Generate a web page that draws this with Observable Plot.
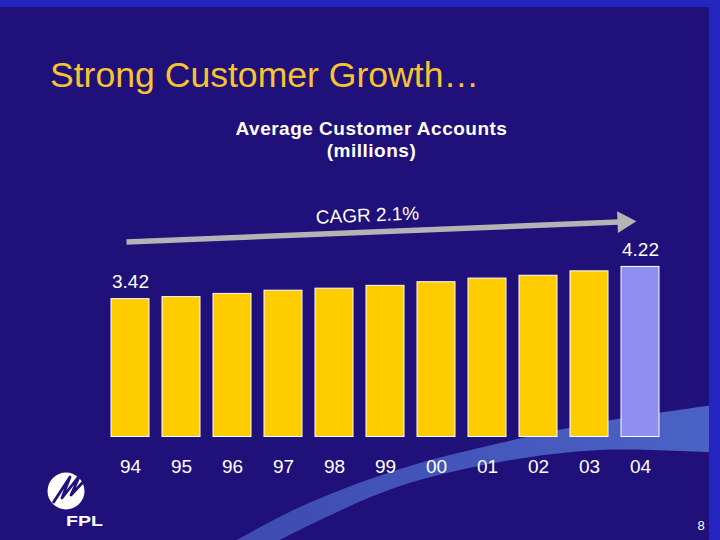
<!DOCTYPE html>
<html>
<head>
<meta charset="utf-8">
<script src="https://cdn.jsdelivr.net/npm/d3@7"></script>
<script src="https://cdn.jsdelivr.net/npm/@observablehq/plot@0.6"></script>
<style>
  html, body { margin: 0; padding: 0; background: #20107a; }
  #slide { position: relative; width: 720px; height: 540px; overflow: hidden; background: #20107a;
           font-family: "Liberation Sans", Arial, sans-serif; }
  #deco { position: absolute; left: 0; top: 0; }
  #title { position: absolute; left: 50px; top: 58px; font-size: 35.6px; line-height: 35px;
           color: #f7c431; white-space: nowrap; }
  #sub { position: absolute; left: 0; top: 118px; width: 743px; text-align: center; color: #ffffff;
         font-weight: bold; font-size: 19px; line-height: 21.5px; letter-spacing: 0.5px; }
  #chart { position: absolute; left: 0; top: 170px; }
</style>
</head>
<body>
<div id="slide">
  <svg id="deco" width="720" height="540" xmlns="http://www.w3.org/2000/svg">
    <defs>
      <linearGradient id="sw" x1="0" y1="0" x2="1" y2="0" gradientUnits="objectBoundingBox">
        <stop offset="0" stop-color="#4b63c6" stop-opacity="0.7"/>
        <stop offset="1" stop-color="#4b63c6" stop-opacity="1"/>
      </linearGradient>
    </defs>
    <path id="swoosh" fill="url(#sw)"/>
    <rect x="0" y="0" width="720" height="7" fill="#2424c0"/>
    <rect x="709" y="0" width="11" height="540" fill="#2424c0"/>
    <g>
      <circle cx="66" cy="491" r="18.5" fill="#ffffff"/>
      <path d="M53,503 L70,477 L62,498 L80,475 L71,495 L84,481" fill="none" stroke="#20107a" stroke-width="2.8" stroke-linejoin="round"/>
      <text x="66" y="526" font-size="14" font-weight="bold" fill="#ffffff" textLength="37" lengthAdjust="spacingAndGlyphs">FPL</text>
    </g>
    <text x="701" y="530" font-size="13" fill="#ffffff" text-anchor="middle">8</text>
  </svg>
  <div id="title">Strong Customer Growth…</div>
  <div id="sub">Average Customer Accounts<br>(millions)</div>
  <div id="chart"></div>
</div>
<script>
// ---- data ----
const years = ["94", "95", "96", "97", "98", "99", "00", "01", "02", "03", "04"];
const accounts = [3.42, 3.47, 3.55, 3.63, 3.68, 3.75, 3.84, 3.93, 4.00, 4.11, 4.22];
const highlightYear = "04";
const labeledYears = ["94", "04"];
const cagrLabel = "CAGR 2.1%";
const cagrFrom = "94";
const cagrTo = "04";
const cagrStartValue = 4.84;
const cagrEndValue = 5.35;

// decorative background swoosh (not data)
const swooshTop = [[226,546],[300,507],[400,469],[500,443],[600,422],[722,404]];
const swooshBottom = [[722,453],[600,450],[500,462],[400,486],[320,520],[268,546]];
const ln = d3.line().curve(d3.curveCatmullRom);
document.getElementById("swoosh").setAttribute("d", ln(swooshTop) + "L" + ln(swooshBottom).slice(1) + "Z");

const data = years.map((year, i) => ({year, value: accounts[i]}));
const labeled = data.filter(d => labeledYears.includes(d.year));
const cagr = [{from: cagrFrom, to: cagrTo, start: cagrStartValue, end: cagrEndValue, label: cagrLabel}];

const chart = Plot.plot({
  width: 720,
  height: 370,
  marginLeft: 96.85,
  marginRight: 47.3,
  marginTop: 96.4,
  marginBottom: 103.5,
  style: {background: "transparent", color: "white", fontFamily: "'Liberation Sans', Arial, sans-serif", overflow: "visible"},
  x: {domain: years, padding: 0.257, label: null},
  y: {domain: [0, 4.22], axis: null},
  color: {type: "identity"},
  marks: [
    Plot.barY(data, {
      x: "year", y: "value",
      fill: d => d.year === highlightYear ? "#8f8fef" : "#ffcc00",
      stroke: "white", strokeWidth: 1
    }),
    Plot.text(labeled, {
      x: "year", y: "value", text: d => d.value.toFixed(2),
      dy: -11, lineAnchor: "bottom", fill: "white", fontSize: 19
    }),
    Plot.link(cagr, {
      x1: "from", x2: "to", y1: "start", y2: "end", dx: -4,
      stroke: "#b4b4b4", strokeWidth: 5.5, strokeDasharray: "493 2000"
    }),
    Plot.dot(cagr, {
      x: "to", y: "end", symbol: "triangle", r: 8.1, rotate: 87.7,
      dx: -16.7, dy: 0.5, fill: "#b4b4b4", stroke: "none"
    }),
    Plot.text(cagr, {
      frameAnchor: "top", text: "label", lineAnchor: "middle", textAnchor: "middle",
      dx: -17.8, dy: -51.4, rotate: -2.3, fill: "white", fontSize: 19
    }),
    Plot.axisX({tickSize: 0, tickPadding: 22, fontSize: 19, label: null})
  ]
});
document.getElementById("chart").appendChild(chart);
</script>
</body>
</html>
